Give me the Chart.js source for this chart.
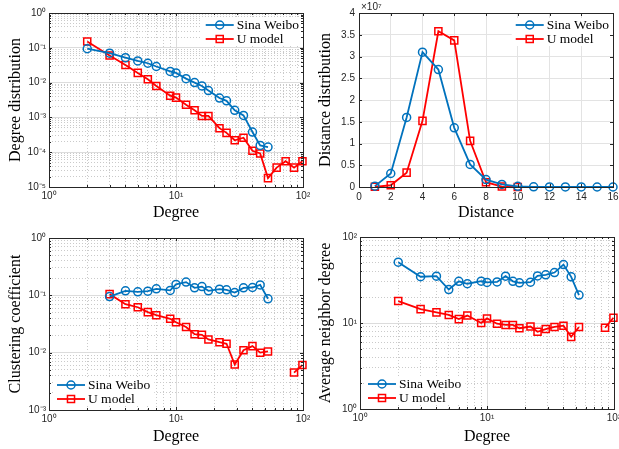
<!DOCTYPE html>
<html>
<head>
<meta charset="utf-8">
<script src="https://cdn.jsdelivr.net/npm/chart.js@4.4.1/dist/chart.umd.min.js"></script>
<style>
  html, body { margin: 0; padding: 0; background: #fff; }
  #page { position: relative; width: 619px; height: 449px; overflow: hidden; background: #fff; }
  canvas { position: absolute; }
</style>
</head>
<body>
<div id="page">
  <canvas id="degreeDist" width="310" height="225" style="left:0;top:0"></canvas>
  <canvas id="distanceDist" width="309" height="225" style="left:310px;top:0"></canvas>
  <canvas id="clustering" width="310" height="224" style="left:0;top:225px"></canvas>
  <canvas id="neighborDeg" width="309" height="224" style="left:310px;top:225px"></canvas>
</div>
<script>
// Data
const seriesNames = ['Sina Weibo', 'U model']

// Degree distribution (top left)
const weiboDegrees = [2, 3, 4, 5, 6, 7, 9, 10, 12, 14, 16, 18, 22, 25, 29, 34, 40, 46, 53]
const modelDegrees = [2, 3, 4, 5, 6, 7, 9, 10, 12, 14, 16, 18, 22, 25, 29, 34, 40, 46, 53, 62, 73, 85, 99]
const weiboDegreeDist = [0.094, 0.070, 0.052, 0.042, 0.036, 0.029, 0.021, 0.019, 0.013, 0.010, 0.0080, 0.0059,
  0.0036, 0.0030, 0.0016, 0.00114, 0.00038, 0.000156, 0.00014]
const modelDegreeDist = [0.152, 0.060, 0.032, 0.019, 0.0125, 0.0080, 0.0042, 0.0037, 0.0023, 0.0016, 0.0011, 0.0011,
  0.00049, 0.00036, 0.00022, 0.00026, 0.00011, 0.000092, 0.000018, 0.000036, 0.000055, 0.000036, 0.000055]

// Distance distribution (top right)
const weiboDistances = [1, 2, 3, 4, 5, 6, 7, 8, 9, 10, 11, 12, 13, 14, 15, 16]
const modelDistances = [1, 2, 3, 4, 5, 6, 7, 8, 9, 10]
const weiboDistanceDist = [0.02e7, 0.31e7, 1.6e7, 3.1e7, 2.7e7, 1.36e7, 0.52e7, 0.17e7, 0.06e7, 0.015e7,
  0.005e7, 0.002e7, 0.001e7, 0.0005e7, 0.0002e7, 0.0001e7]
const modelDistanceDist = [0.005e7, 0.04e7, 0.33e7, 1.52e7, 3.58e7, 3.37e7, 1.06e7, 0.11e7, 0.01e7, 0.002e7]

// Clustering coefficient (bottom left), gaps where the model has no value
const weiboClusterDegrees = [3, 4, 5, 6, 7, 9, 10, 12, 14, 16, 18, 22, 25, 29, 34, 40, 46, 53]
const modelClusterDegrees = [3, 4, 5, 6, 7, 9, 10, 12, 14, 16, 18, 22, 25, 29, 34, 40, 46, 53, 62, 73, 85, 99]
const weiboClustering = [0.095, 0.12, 0.115, 0.118, 0.13, 0.122, 0.155, 0.17, 0.135, 0.142, 0.12, 0.128,
  0.125, 0.112, 0.135, 0.137, 0.152, 0.087]
const modelClustering = [0.105, 0.070, 0.062, 0.051, 0.045, 0.039, 0.034, 0.028, 0.021, 0.0205, 0.017, 0.0152,
  0.0143, 0.0062, 0.011, 0.013, 0.010, 0.0105, null, null, 0.0045, 0.0061]

// Average neighbor degree (bottom right)
const weiboNeighborDeg = [51, 34.5, 35, 24.5, 30.5, 28.6, 30.6, 29.6, 30, 35, 30.5, 29.3, 29.8, 35.3, 36.3,
  38.6, 47.8, 34.4, 21.1]
const modelNeighborDeg = [18, 14.5, 13.3, 12.4, 11.1, 12.2, 10, 11.3, 9.8, 9.5, 9.5, 8.7, 9.1, 7.9, 8.5,
  9.0, 9.3, 6.9, 9.0, null, null, 8.8, 11.5]

// Axis ranges / ticks
const degreeRange = [1, 100]
const degreeDistRange = [1e-5, 1]
const clusteringRange = [1e-3, 1]
const neighborRange = [1, 100]
const distanceTicks = [0, 2, 4, 6, 8, 10, 12, 14, 16]
const distanceDistTicks = [0, 0.5e7, 1e7, 1.5e7, 2e7, 2.5e7, 3e7, 3.5e7, 4e7]

const SERIF = '"Liberation Serif", "Times New Roman", serif'
const SANS = '"Liberation Sans", Arial, sans-serif'
const AXIS = '#262626'
const BLUE = '#0072BD'
const RED = '#FF0000'
const SUP = { '-': '\u207B', 0: '\u2070', 1: '\u00B9', 2: '\u00B2', 3: '\u00B3', 4: '\u2074', 5: '\u2075', 6: '\u2076', 7: '\u2077', 8: '\u2078', 9: '\u2079' }

const isDecade = function (v) {
  const e = Math.log10(v)
  return Math.abs(e - Math.round(e)) < 1e-6
}

const supLabel = function (v) {
  return '10' + String(Math.round(Math.log10(v))).split('').map(c => SUP[c]).join('')
}

// 1..9 per decade, like matlab minor grid
const logTicks = function (min, max) {
  const out = []
  for (let e = Math.round(Math.log10(min)); e <= Math.round(Math.log10(max)); e++) {
    for (let k = 1; k <= 9; k++) {
      const v = Number((k * Math.pow(10, e)).toPrecision(6))
      if (v <= max * 1.000001) out.push(v)
    }
  }
  return out
}

const pairs = function (xs, ys) {
  return xs.map((x, i) => ({ x, y: ys[i] }))
}

const fitBox = function (scale, size) {
  if (scale.isHorizontal()) {
    scale.height = size
  } else {
    scale.width = size
  }
  scale.paddingLeft = scale.paddingRight = scale.paddingTop = scale.paddingBottom = 0
}

const axisTitle = function (text, isX) {
  return {
    display: true,
    text,
    color: '#000',
    font: { family: SERIF, size: 16 },
    padding: isX ? { top: 0, bottom: 3 } : { top: 6, bottom: 0 }
  }
}

const tickFont = { family: SANS, size: 10 }

const logAxis = function (range, title, size, isX) {
  return {
    type: 'logarithmic',
    min: range[0],
    max: range[1],
    afterBuildTicks: (scale) => { scale.ticks = logTicks(range[0], range[1]).map(value => ({ value })) },
    afterFit: (scale) => fitBox(scale, size),
    ticks: {
      autoSkip: false,
      maxRotation: 0,
      minRotation: 0,
      padding: isX ? 3 : 3,
      color: AXIS,
      font: tickFont,
      callback: (v) => isDecade(v) ? supLabel(v) : ''
    },
    grid: {
      drawTicks: false,
      lineWidth: 1,
      color: (c) => (c.tick && isDecade(c.tick.value)) ? '#dcdcdc' : '#cacaca'
    },
    border: {
      display: false,
      dash: (c) => (c.tick && !isDecade(c.tick.value)) ? [1, 2] : []
    },
    title: axisTitle(title, isX)
  }
}

const linearAxis = function (ticks, label, title, size, isX) {
  return {
    type: 'linear',
    min: ticks[0],
    max: ticks[ticks.length - 1],
    afterBuildTicks: (scale) => { scale.ticks = ticks.map(value => ({ value })) },
    afterFit: (scale) => fitBox(scale, size),
    ticks: {
      autoSkip: false,
      maxRotation: 0,
      minRotation: 0,
      padding: 4,
      color: AXIS,
      font: tickFont,
      callback: label
    },
    grid: { drawTicks: false, lineWidth: 1, color: '#e3e3e3' },
    border: { display: false },
    title: axisTitle(title, isX)
  }
}

const series = function (label, data, color, style) {
  return {
    label,
    data,
    borderColor: color,
    borderWidth: 1.8,
    pointStyle: style,
    pointRadius: style === 'rect' ? 5 : 4,
    pointBorderWidth: 1.5,
    pointBorderColor: color,
    pointBackgroundColor: 'rgba(0,0,0,0)',
    spanGaps: false,
    tension: 0,
    clip: false
  }
}

// Legend inside the axes, line + marker + text, white box without border
const drawLegend = function (chart, corner) {
  const { ctx, chartArea: a } = chart
  const sets = chart.data.datasets
  ctx.save()
  ctx.font = `13.5px ${SERIF}`
  const textW = Math.max(...sets.map(d => ctx.measureText(d.label).width))
  const lineLen = 28
  const boxW = 4 + lineLen + 3 + textW + 4
  const boxH = 28
  let x0, y0
  if (corner === 'ne') {
    x0 = a.right - boxW
    y0 = a.top + 5
  } else {
    x0 = a.left + 4
    y0 = a.bottom - 4 - boxH
  }
  ctx.fillStyle = '#fff'
  ctx.fillRect(x0, y0, boxW, boxH)
  sets.forEach((d, i) => {
    const y = y0 + 7 + i * 14
    const lx = x0 + 4
    ctx.strokeStyle = d.borderColor
    ctx.lineWidth = d.borderWidth
    ctx.beginPath()
    ctx.moveTo(lx, y)
    ctx.lineTo(lx + lineLen, y)
    ctx.stroke()
    ctx.lineWidth = d.pointBorderWidth
    ctx.beginPath()
    const mx = lx + lineLen / 2
    if (d.pointStyle === 'rect') {
      const s = d.pointRadius * Math.SQRT1_2
      ctx.rect(mx - s, y - s, 2 * s, 2 * s)
    } else {
      ctx.arc(mx, y, d.pointRadius, 0, Math.PI * 2)
    }
    ctx.stroke()
    ctx.fillStyle = '#000'
    ctx.textBaseline = 'middle'
    ctx.textAlign = 'left'
    ctx.fillText(d.label, lx + lineLen + 3, y + 0.5)
  })
  ctx.restore()
}

// Axes box with inward ticks, matlab style
const framePlugin = {
  id: 'frame',
  afterDraw (chart, args, opts) {
    const { ctx, chartArea: a, scales } = chart
    drawLegend(chart, opts.corner)
    ctx.save()
    ctx.strokeStyle = AXIS
    ctx.lineWidth = 1
    ctx.beginPath()
    const isMinor = (v) => opts.log && !isDecade(v)
    scales.x.ticks.forEach(t => {
      const px = Math.round(scales.x.getPixelForValue(t.value)) + 0.5
      const len = isMinor(t.value) ? 2 : 3
      ctx.moveTo(px, a.bottom)
      ctx.lineTo(px, a.bottom - len)
      ctx.moveTo(px, a.top)
      ctx.lineTo(px, a.top + len)
    })
    scales.y.ticks.forEach(t => {
      const py = Math.round(scales.y.getPixelForValue(t.value)) + 0.5
      const len = isMinor(t.value) ? 2 : 3
      ctx.moveTo(a.left, py)
      ctx.lineTo(a.left + len, py)
      ctx.moveTo(a.right, py)
      ctx.lineTo(a.right - len, py)
    })
    ctx.stroke()
    ctx.strokeRect(Math.round(a.left) + 0.5, Math.round(a.top) + 0.5,
      Math.round(a.right - a.left), Math.round(a.bottom - a.top))
    if (opts.exponent) {
      ctx.font = `10px ${SANS}`
      ctx.fillStyle = AXIS
      ctx.textBaseline = 'alphabetic'
      ctx.textAlign = 'left'
      ctx.fillText(opts.exponent, a.left + 2, a.top - 3)
    }
    ctx.restore()
  }
}

const makeChart = function (id, datasets, xAxis, yAxis, pad, frame) {
  return new Chart(document.getElementById(id), {
    type: 'line',
    data: { datasets },
    options: {
      responsive: false,
      animation: false,
      parsing: true,
      layout: { autoPadding: false, padding: { left: 0, top: pad.top, right: pad.right, bottom: 0 } },
      plugins: { legend: { display: false }, tooltip: { enabled: false }, frame },
      scales: { x: xAxis, y: yAxis }
    },
    plugins: [framePlugin]
  })
}

makeChart('degreeDist', [
  series(seriesNames[0], pairs(weiboDegrees, weiboDegreeDist), BLUE, 'circle'),
  series(seriesNames[1], pairs(modelDegrees, modelDegreeDist), RED, 'rect')
], logAxis(degreeRange, 'Degree', 38, true), logAxis(degreeDistRange, 'Degree distribution', 49, false),
{ top: 13, right: 7 }, { corner: 'ne', log: true })

makeChart('distanceDist', [
  series(seriesNames[0], pairs(weiboDistances, weiboDistanceDist), BLUE, 'circle'),
  series(seriesNames[1], pairs(modelDistances, modelDistanceDist), RED, 'rect')
], linearAxis(distanceTicks, (v) => String(v), 'Distance', 38, true),
linearAxis(distanceDistTicks, (v) => String(v / 1e7), 'Distance distribution', 49, false),
{ top: 13, right: 6 }, { corner: 'ne', log: false, exponent: '\u00D710\u2077' })

makeChart('clustering', [
  series(seriesNames[0], pairs(weiboClusterDegrees, weiboClustering), BLUE, 'circle'),
  series(seriesNames[1], pairs(modelClusterDegrees, modelClustering), RED, 'rect')
], logAxis(degreeRange, 'Degree', 39, true), logAxis(clusteringRange, 'Clustering coefficient', 49, false),
{ top: 13, right: 7 }, { corner: 'sw', log: true })

makeChart('neighborDeg', [
  series(seriesNames[0], pairs(weiboDegrees, weiboNeighborDeg), BLUE, 'circle'),
  series(seriesNames[1], pairs(modelDegrees, modelNeighborDeg), RED, 'rect')
], logAxis(degreeRange, 'Degree', 40, true), logAxis(neighborRange, 'Average neighbor degree', 50, false),
{ top: 12, right: 5 }, { corner: 'sw', log: true })
</script>
</body>
</html>
